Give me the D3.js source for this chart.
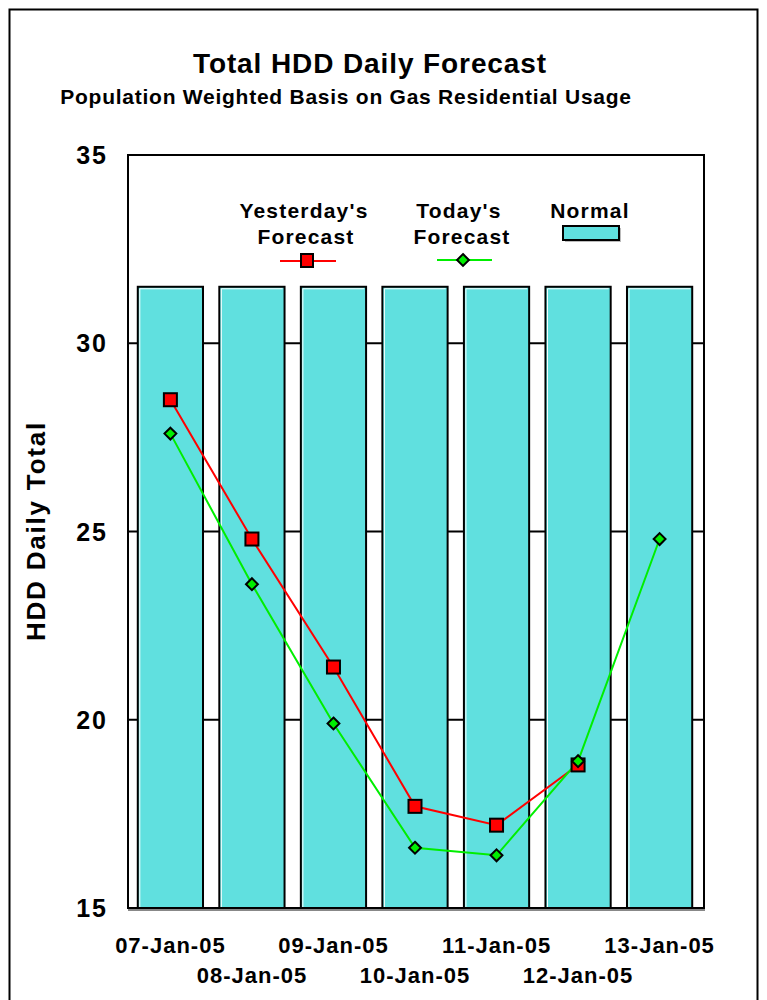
<!DOCTYPE html>
<html><head><meta charset="utf-8">
<script src="https://cdn.jsdelivr.net/npm/d3@7"></script>
<style>body{margin:0;background:#fff;} svg{display:block;font-family:"Liberation Sans",Arial,sans-serif;font-weight:bold;}</style>
</head><body>
<svg id="c" width="767" height="1000"></svg>
<script>
const categories = ["07-Jan-05","08-Jan-05","09-Jan-05","10-Jan-05","11-Jan-05","12-Jan-05","13-Jan-05"];
const normalValues = [31.5,31.5,31.5,31.5,31.5,31.5,31.5];
const yesterdayValues = [28.5,24.8,21.4,17.7,17.2,18.8,null];
const todayValues = [27.6,23.6,19.9,16.6,16.4,18.9,24.8];
const yTicks = [15,20,25,30,35];

const svg = d3.select("#c");
const m = {left:128, right:704, top:155, bottom:908};
const x = d3.scaleBand().domain(categories).range([m.left, 702]).paddingInner(0.2).paddingOuter(0.12);
const y = d3.scaleLinear().domain([15,35]).range([m.bottom, m.top]);

// outer border
svg.append("rect").attr("x",9.5).attr("y",9.5).attr("width",748).attr("height",1000).attr("fill","none").attr("stroke","#000").attr("stroke-width",2);

// titles
svg.append("text").attr("x",370).attr("y",73).attr("text-anchor","middle").attr("font-size",28).attr("letter-spacing",0.9).text("Total HDD Daily Forecast");
svg.append("text").attr("x",346).attr("y",104).attr("text-anchor","middle").attr("font-size",21).attr("letter-spacing",0.75).text("Population Weighted Basis on Gas Residential Usage");

// plot shadow
svg.append("line").attr("x1",m.left).attr("x2",m.right+1).attr("y1",m.bottom+2).attr("y2",m.bottom+2).attr("stroke","#888").attr("stroke-width",2);

// gridlines
svg.selectAll("line.grid").data(yTicks.filter(d=>d>15 && d<35)).join("line").attr("class","grid")
  .attr("x1",m.left).attr("x2",m.right).attr("y1",d=>y(d)).attr("y2",d=>y(d))
  .attr("stroke","#000").attr("stroke-width",2);

// bars
svg.selectAll("rect.bar").data(normalValues).join("rect").attr("class","bar")
  .attr("x",(d,i)=>x(categories[i])).attr("y",d=>y(d)).attr("width",x.bandwidth()).attr("height",d=>y(15)-y(d))
  .attr("fill","#60E0DF").attr("stroke","#000").attr("stroke-width",2);
svg.selectAll("path.hl").data(normalValues).join("path").attr("class","hl")
  .attr("d",(d,i)=>{const x0=x(categories[i])+2, y0=y(d)+2; return `M${x0},${y(15)} V${y0} H${x0+x.bandwidth()-4}`;})
  .attr("fill","none").attr("stroke","#fff").attr("stroke-width",1);

// frame
svg.append("rect").attr("x",m.left).attr("y",m.top).attr("width",m.right-m.left).attr("height",m.bottom-m.top)
  .attr("fill","none").attr("stroke","#000").attr("stroke-width",2);

// y axis labels
svg.selectAll("text.yt").data(yTicks).join("text").attr("class","yt")
  .attr("x",108).attr("y",d=>y(d)+9).attr("text-anchor","end").attr("font-size",25).attr("letter-spacing",2).text(d=>d);
svg.append("text").attr("transform","translate(45,531) rotate(-90)").attr("text-anchor","middle").attr("font-size",26).attr("letter-spacing",1.8).text("HDD Daily Total");

// x labels
svg.selectAll("text.xt").data(categories).join("text").attr("class","xt")
  .attr("x",d=>x(d)+x.bandwidth()/2).attr("y",(d,i)=>i%2===0?953:983)
  .attr("text-anchor","middle").attr("font-size",22).attr("letter-spacing",1).text(d=>d);

// lines
const cx = i => x(categories[i]) + x.bandwidth()/2;
const lineGen = d3.line().defined(d=>d!=null).x((d,i)=>cx(i)).y(d=>y(d));
svg.append("path").datum(yesterdayValues).attr("d",lineGen).attr("fill","none").attr("stroke","#FF0000").attr("stroke-width",2);
svg.append("path").datum(todayValues).attr("d",lineGen).attr("fill","none").attr("stroke","#00EE00").attr("stroke-width",2);

const sq = 13;
svg.selectAll("rect.ym").data(yesterdayValues.map((v,i)=>({v,i})).filter(d=>d.v!=null)).join("rect").attr("class","ym")
  .attr("x",d=>cx(d.i)-sq/2).attr("y",d=>y(d.v)-sq/2).attr("width",sq).attr("height",sq)
  .attr("fill","#FF0000").attr("stroke","#000").attr("stroke-width",2);
const diamond = d3.symbol().type(d3.symbolDiamond2).size(90);
svg.selectAll("path.tm").data(todayValues).join("path").attr("class","tm")
  .attr("transform",(d,i)=>`translate(${cx(i)},${y(d)})`).attr("d",diamond)
  .attr("fill","#00EE00").attr("stroke","#000").attr("stroke-width",2);

// legend
const lg = svg.append("g").attr("font-size",21).attr("letter-spacing",1.2).attr("text-anchor","middle");
lg.append("text").attr("x",304).attr("y",218).text("Yesterday's");
lg.append("text").attr("x",306).attr("y",244).text("Forecast");
lg.append("line").attr("x1",280).attr("x2",336).attr("y1",261).attr("y2",261).attr("stroke","#FF0000").attr("stroke-width",2);
lg.append("rect").attr("x",301).attr("y",254).attr("width",12).attr("height",13).attr("fill","#FF0000").attr("stroke","#000").attr("stroke-width",2);
lg.append("text").attr("x",459).attr("y",218).text("Today's");
lg.append("text").attr("x",462).attr("y",244).text("Forecast");
lg.append("line").attr("x1",437).attr("x2",492).attr("y1",260).attr("y2",260).attr("stroke","#00EE00").attr("stroke-width",2);
lg.append("path").attr("transform","translate(463,260)").attr("d",diamond).attr("fill","#00EE00").attr("stroke","#000").attr("stroke-width",2);
lg.append("text").attr("x",590).attr("y",218).text("Normal");
lg.append("rect").attr("x",565).attr("y",228).attr("width",56).attr("height",14).attr("fill","#bbb");
lg.append("rect").attr("x",563).attr("y",226).attr("width",56).attr("height",14).attr("fill","#60E0DF").attr("stroke","#000").attr("stroke-width",2);
</script>
</body></html>
